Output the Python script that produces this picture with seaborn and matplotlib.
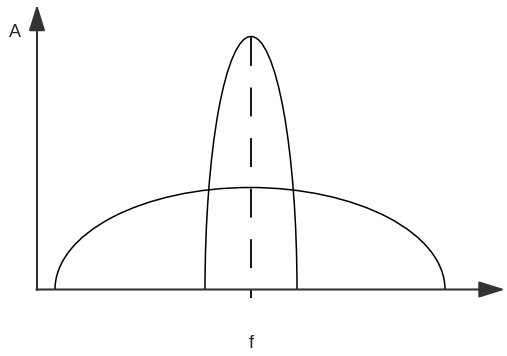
import matplotlib
matplotlib.use('Agg')
import matplotlib.pyplot as plt
from matplotlib.patches import Arc
import seaborn as sns
import pandas as pd

sns.set_style('white')
plt.rcParams['font.family'] = ['Liberation Sans', 'DejaVu Sans']

## 곡선 데이터 (그림에서 읽은 값, 단위: 픽셀 기준 임의 단위)
curve_names = ['wide', 'narrow']
curve_center = [213, 214]      # 중심 주파수 f
curve_halfwidth = [195, 46]    # 반폭
curve_peak = [102, 253]        # 최대 진폭 A

## 점선 (중심 주파수 표시, 위에서 아래로)
marker_f = [214, 214]
marker_a = [253, -8]

## 축 범위
f_max = 468
a_max = 285

fig = plt.figure(figsize=(5.07, 3.56), dpi=100)
ax = fig.add_axes([0, 0, 1, 1])
ax.set_xlim(-37, 470)
ax.set_ylim(-66.5, 289.5)
ax.axis('off')

## 반타원 곡선
for c, w, h in zip(curve_center, curve_halfwidth, curve_peak):
    ax.add_patch(Arc((c, 0), 2 * w, 2 * h, theta1=0, theta2=180,
                     color='black', lw=1.1))

## 중심 점선 (같은 x값이라 집계하지 않도록 estimator=None)
df = pd.DataFrame({'f': marker_f, 'A': marker_a})
sns.lineplot(data=df, x='f', y='A', ax=ax, color='black', sort=False,
             estimator=None, errorbar=None)
line = ax.lines[-1]
line.set_linewidth(1.3)
line.set_dashes([16, 12])

## 축 화살표
arrow = dict(arrowstyle='-|>,head_length=1.6,head_width=0.5', color='#333333',
             lw=1.5, mutation_scale=10, shrinkA=0, shrinkB=0)
ax.annotate('', xy=(0, a_max), xytext=(0, -0.5), arrowprops=arrow)
ax.annotate('', xy=(f_max, 0), xytext=(-0.5, 0), arrowprops=arrow)

## 축 레이블
ax.text(-22, 257, 'A', fontsize=13, ha='center', va='center')
ax.text(214, -54, 'f', fontsize=13, ha='center', va='center')

plt.savefig('out.png', dpi=100)
